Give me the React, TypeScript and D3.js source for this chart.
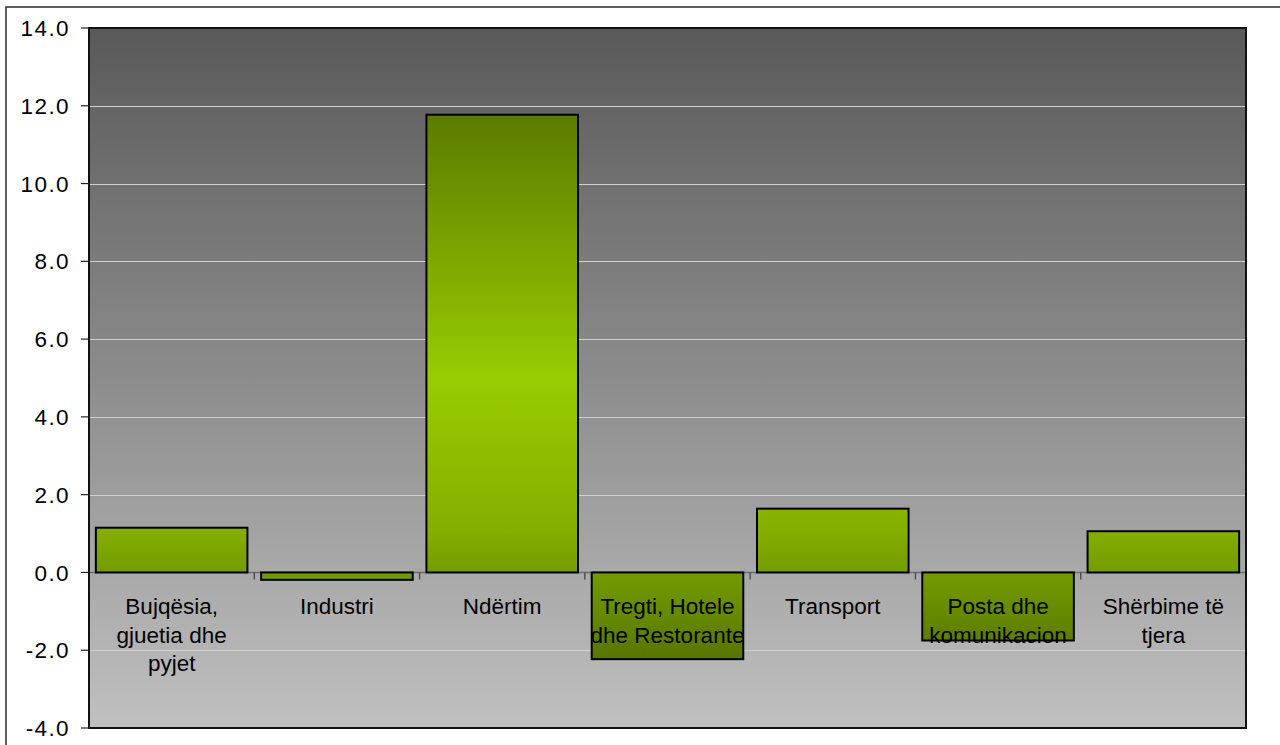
import React from "react";
import * as d3 from "d3";

const categories = [
  "Bujqësia, gjuetia dhe pyjet",
  "Industri",
  "Ndërtim",
  "Tregti, Hotele dhe Restorante",
  "Transport",
  "Posta dhe komunikacion",
  "Shërbime të tjera",
];

// wrapped category labels, as they appear under the axis
const labelLines = [
  ["Bujqësia,", "gjuetia dhe", "pyjet"],
  ["Industri"],
  ["Ndërtim"],
  ["Tregti, Hotele", "dhe Restorante"],
  ["Transport"],
  ["Posta dhe", "komunikacion"],
  ["Shërbime të", "tjera"],
];

const values = [1.15, -0.19, 11.77, -2.23, 1.64, -1.75, 1.06];

const yTicks = [-4, -2, 0, 2, 4, 6, 8, 10, 12, 14];

function App() {
  const width = 1280;
  const height = 745;
  const plotLeft = 89;
  const plotRight = 1246;
  const plotTop = 28;
  const plotBottom = 728;

  const x = d3
    .scaleBand<string>()
    .domain(categories)
    .range([plotLeft, plotRight])
    .paddingInner(0.083)
    .paddingOuter(0.0415);

  const y = d3.scaleLinear().domain([-4, 14]).range([plotBottom, plotTop]);

  const step = (plotRight - plotLeft) / categories.length;
  // plain hyphen for negatives, like the original
  const fmt = (v: number) => d3.format(".1f")(v).replace("\u2212", "-");

  return (
    <div style={{ position: "absolute", left: 0, top: 0 }}>
      <svg
        width={width}
        height={height}
        viewBox={`0 0 ${width} ${height}`}
        style={{ display: "block", fontFamily: "'Liberation Sans', Arial, sans-serif" }}
      >
        <defs>
          <linearGradient id="bg" x1="0" y1="0" x2="0" y2="1">
            <stop offset="0" stopColor="#595959" />
            <stop offset="1" stopColor="#c0c0c0" />
          </linearGradient>
          <linearGradient
            id="barFill"
            gradientUnits="userSpaceOnUse"
            x1="0"
            y1={plotTop}
            x2="0"
            y2={plotBottom}
          >
            <stop offset="0" stopColor="#526d00" />
            <stop offset="0.12" stopColor="#5a7a00" />
            <stop offset="0.5" stopColor="#99cc00" />
            <stop offset="0.72" stopColor="#84ae00" />
            <stop offset="0.78" stopColor="#729b00" />
            <stop offset="0.9" stopColor="#587600" />
            <stop offset="1" stopColor="#4b6400" />
          </linearGradient>
        </defs>

        <rect x={0} y={0} width={width} height={height} fill="#ffffff" />
        {/* outer chart border */}
        <rect
          x={6}
          y={7}
          width={width + 10}
          height={height + 10}
          fill="none"
          stroke="#2b2b2b"
          strokeWidth={1.5}
        />

        {/* plot area */}
        <rect
          x={plotLeft}
          y={plotTop}
          width={plotRight - plotLeft}
          height={plotBottom - plotTop}
          fill="url(#bg)"
        />

        {/* gridlines */}
        {yTicks
          .filter((t) => t !== -4 && t !== 14 && t !== 0)
          .map((t) => (
            <line
              key={`g${t}`}
              x1={plotLeft}
              x2={plotRight}
              y1={Math.round(y(t)) + 0.5}
              y2={Math.round(y(t)) + 0.5}
              stroke="#d0d0d0"
              strokeWidth={1}
            />
          ))}

        {/* zero axis */}
        <line
          x1={plotLeft}
          x2={plotRight}
          y1={y(0)}
          y2={y(0)}
          stroke="#6e6e6e"
          strokeWidth={1.5}
        />
        {d3.range(1, categories.length).map((i) => (
          <line
            key={`ct${i}`}
            x1={plotLeft + i * step}
            x2={plotLeft + i * step}
            y1={y(0)}
            y2={y(0) + 7}
            stroke="#444444"
            strokeWidth={1.3}
          />
        ))}

        {/* bars */}
        {categories.map((c, i) => {
          const v = values[i];
          const y0 = y(Math.max(0, v));
          const y1 = y(Math.min(0, v));
          return (
            <rect
              key={c}
              x={x(c)}
              y={y0}
              width={x.bandwidth()}
              height={y1 - y0}
              fill="url(#barFill)"
              stroke="#000000"
              strokeWidth={2}
            />
          );
        })}

        {/* plot border */}
        <rect
          x={plotLeft}
          y={plotTop}
          width={plotRight - plotLeft}
          height={plotBottom - plotTop}
          fill="none"
          stroke="#111111"
          strokeWidth={2}
        />

        {/* y axis ticks + labels */}
        {yTicks.map((t) => (
          <g key={`yt${t}`}>
            <line
              x1={plotLeft - 8}
              x2={plotLeft}
              y1={y(t)}
              y2={y(t)}
              stroke="#222222"
              strokeWidth={1.2}
            />
            <text
              x={70}
              y={y(t)}
              dy="0.36em"
              textAnchor="end"
              fontSize={22.5}
              letterSpacing={1.4}
              fill="#000000"
            >
              {fmt(t)}
            </text>
          </g>
        ))}

        {/* category labels */}
        {categories.map((c, i) => (
          <text
            key={`cl${c}`}
            x={(x(c) as number) + x.bandwidth() / 2}
            y={y(0) + 42}
            textAnchor="middle"
            fontSize={22.5}
            fill="#000000"
          >
            {labelLines[i].map((line, j) => (
              <tspan key={j} x={(x(c) as number) + x.bandwidth() / 2} dy={j === 0 ? 0 : 28.5}>
                {line}
              </tspan>
            ))}
          </text>
        ))}
      </svg>
    </div>
  );
}

export default App;
